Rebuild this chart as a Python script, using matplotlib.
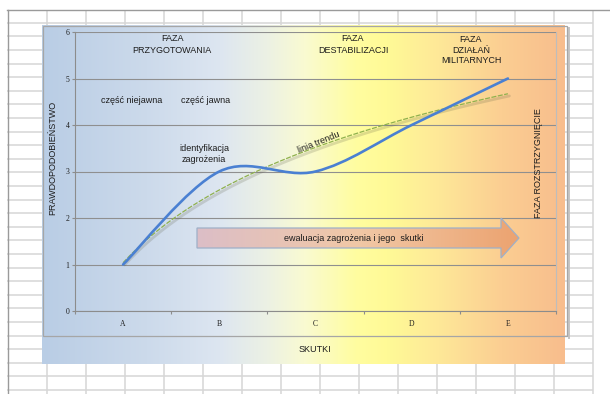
import numpy as np
import matplotlib
matplotlib.use("Agg")
import matplotlib.pyplot as plt
from matplotlib.patches import Polygon, Rectangle, PathPatch
from matplotlib.path import Path
from matplotlib import transforms

# ---- data ----
categories = ['A', 'B', 'C', 'D', 'E']
risk_values = [1, 3, 3, 4, 5]
y_ticks = [0, 1, 2, 3, 4, 5, 6]
y_label = 'PRAWDOPODOBIEŃSTWO'
x_label = 'SKUTKI'
phase_titles = ['FAZA\nPRZYGOTOWANIA', 'FAZA\nDESTABILIZACJI', 'FAZA\nDZIAŁAŃ\nMILITARNYCH']
right_label = 'FAZA ROZSTRZYGNIĘCIE'
arrow_text = 'ewaluacja zagrożenia i jego  skutki'

W, H = 610, 394
fig = plt.figure(figsize=(W / 100, H / 100), dpi=100)
fig.patch.set_facecolor('white')

SANS = 'Liberation Sans'
SERIF = 'Liberation Serif'
TXT = '#1c1c1c'

# ---- background (pixel coordinates) ----
bg = fig.add_axes([0, 0, 1, 1], zorder=0)
bg.set_xlim(0, W)
bg.set_ylim(H, 0)
bg.axis('off')

# spreadsheet grid
grid_c = '#d6d6d6'
rows = 22.7 + 13.6 * np.arange(0, 28)
for yy in rows:
    if yy < 392:
        bg.plot([7, 593], [yy, yy], color=grid_c, lw=1.1, zorder=1, solid_capstyle='butt')
cols = 47 + 39.0 * np.arange(0, 15)
for xx in cols:
    bg.plot([xx, xx], [10, H], color=grid_c, lw=1.1, zorder=1, solid_capstyle='butt')
bg.plot([7, W], [9.5, 9.5], color='#9a9a9a', lw=1.0, zorder=2)
bg.plot([7.5, 7.5], [9.5, H], color='#9a9a9a', lw=1.0, zorder=2)


def gradient(stops, n=600):
    fr = np.array([s[0] for s in stops])
    cs = np.array([s[1] for s in stops], dtype=float) / 255.0
    xs = np.linspace(0, 1, n)
    img = np.stack([np.interp(xs, fr, cs[:, k]) for k in range(3)], axis=-1)
    return img[None, :, :]


bg_stops = [
    (0.00, (185, 205, 229)),
    (0.20, (204, 218, 235)),
    (0.34, (221, 230, 241)),
    (0.43, (236, 241, 228)),
    (0.50, (249, 250, 210)),
    (0.60, (255, 253, 160)),
    (0.66, (255, 250, 150)),
    (0.76, (254, 232, 152)),
    (0.88, (251, 206, 146)),
    (1.00, (248, 189, 141)),
]
bg.imshow(gradient(bg_stops), extent=(42, 565, 364, 25), aspect='auto',
          interpolation='bilinear', zorder=3)

# plot-area frame with soft shadow on the right
bg.plot([568.5, 568.5], [28, 338], color='#c4c4c4', lw=1.4, zorder=4)
bg.add_patch(Rectangle((42.5, 26), 524, 310, fill=False, edgecolor='#a6a6a6',
                       lw=0.9, zorder=5))

# ---- main plot axes ----
ax = fig.add_axes([75 / W, (H - 311) / H, 481 / W, 279 / H], zorder=1)
ax.patch.set_alpha(0)
x = np.arange(1, len(categories) + 1)
ax.set_xlim(0.5, len(categories) + 0.5)
ax.set_ylim(0, 6)
ax.set_yticks(y_ticks)
ax.set_yticklabels([str(t) for t in y_ticks], fontfamily=SERIF, fontsize=5.5, color=TXT)
ax.tick_params(axis='y', length=2.5, width=0.8, color='#8c8c8c', pad=1.5)
ax.set_xticks(np.arange(0.5, len(categories) + 1, 1.0))
ax.set_xticklabels([])
ax.set_xticks(x, minor=True)
ax.set_xticklabels(categories, minor=True, fontfamily=SERIF, fontsize=5.5, color=TXT)
ax.tick_params(axis='x', which='major', length=2.5, width=0.8, color='#8c8c8c')
ax.tick_params(axis='x', which='minor', length=0, pad=6.5)
ax.yaxis.grid(True, color='#8f8f8f', lw=0.8)
ax.set_axisbelow(True)
for s in ['left', 'bottom']:
    ax.spines[s].set_color('#8c8c8c')
    ax.spines[s].set_linewidth(0.8)
ax.spines['right'].set_color('#bdbdbd')
ax.spines['right'].set_linewidth(0.8)
ax.spines['top'].set_visible(False)

# trend line (logarithmic fit, as in the source chart)
coef = np.polyfit(np.log(x), risk_values, 1)
xs = np.linspace(x[0], x[-1], 200)
trend = coef[0] * np.log(xs) + coef[1]
shadow_tr = transforms.offset_copy(ax.transData, fig=fig, x=1.5, y=-2.2, units='dots')
ax.plot(xs, trend, color='#5a5a40', alpha=0.2, lw=2.0, transform=shadow_tr, zorder=3,
        solid_capstyle='round')
ax.plot(xs, trend, color='#8fb04e', lw=0.9, ls=(0, (4, 1.2)), zorder=4)

# smoothed series (Excel-style Bezier smoothing)
P = np.column_stack([x, risk_values]).astype(float)
Pe = np.vstack([P[0], P, P[-1]])
verts = [tuple(P[0])]
codes = [Path.MOVETO]
for i in range(len(P) - 1):
    p0, p1, p2, p3 = Pe[i], Pe[i + 1], Pe[i + 2], Pe[i + 3]
    verts += [tuple(p1 + (p2 - p0) / 6), tuple(p2 - (p3 - p1) / 6), tuple(p2)]
    codes += [Path.CURVE4] * 3
ax.add_patch(PathPatch(Path(verts, codes), fill=False, edgecolor='#4a80d2', lw=1.9,
                       zorder=5, capstyle='round'))

# ---- overlay (annotations, pixel coordinates) ----
ov = fig.add_axes([0, 0, 1, 1], zorder=2)
ov.set_xlim(0, W)
ov.set_ylim(H, 0)
ov.axis('off')
ov.patch.set_alpha(0)

# block arrow with gradient fill
arrow_pts = [(197, 228), (501, 228), (501, 218), (519, 238), (501, 258), (501, 248), (197, 248)]
arr = Polygon(arrow_pts, closed=True, facecolor='none', edgecolor='none')
ov.add_patch(arr)
arrow_stops = [(0.0, (220, 190, 199)), (0.5, (241, 200, 166)), (1.0, (236, 163, 112))]
im = ov.imshow(gradient(arrow_stops), extent=(197, 519, 258, 218), aspect='auto',
               interpolation='bilinear', zorder=3)
im.set_clip_path(arr)
ov.add_patch(Polygon(arrow_pts, closed=True, facecolor='none', edgecolor='#9fb0c8',
                     lw=0.9, zorder=4))
ov.set_xlim(0, W)
ov.set_ylim(H, 0)

fs = 6.5
ov.text(354, 238.5, arrow_text, ha='center', va='center', fontsize=fs, family=SANS, color=TXT, zorder=5)
ov.text(172, 44.5, phase_titles[0], ha='center', va='center', fontsize=fs, family=SANS,
        color=TXT, linespacing=1.3)
ov.text(353, 44.5, phase_titles[1], ha='center', va='center', fontsize=fs, family=SANS,
        color=TXT, linespacing=1.3)
ov.text(471, 50, phase_titles[2], ha='center', va='center', fontsize=fs, family=SANS,
        color=TXT, linespacing=1.25)
ov.text(131.5, 100.5, 'część niejawna', ha='center', va='center', fontsize=fs, family=SANS, color=TXT)
ov.text(206, 100.5, 'część jawna', ha='center', va='center', fontsize=fs, family=SANS, color=TXT)
ov.text(204, 154, 'identyfikacja\nzagrożenia', ha='center', va='center', fontsize=fs,
        family=SANS, color=TXT, linespacing=1.3)
ov.text(319, 142, 'linia trendu', ha='center', va='center', fontsize=fs, family=SANS,
        color=TXT, rotation=22, rotation_mode='anchor')
ov.text(52.5, 158, y_label, ha='center', va='center', fontsize=fs, family=SANS, color=TXT, rotation=90)
ov.text(538.5, 163, right_label, ha='center', va='center', fontsize=fs, family=SANS, color=TXT, rotation=90)
ov.text(315, 350, x_label, ha='center', va='center', fontsize=fs, family=SANS, color=TXT)

fig.savefig('out.png', dpi=100)
